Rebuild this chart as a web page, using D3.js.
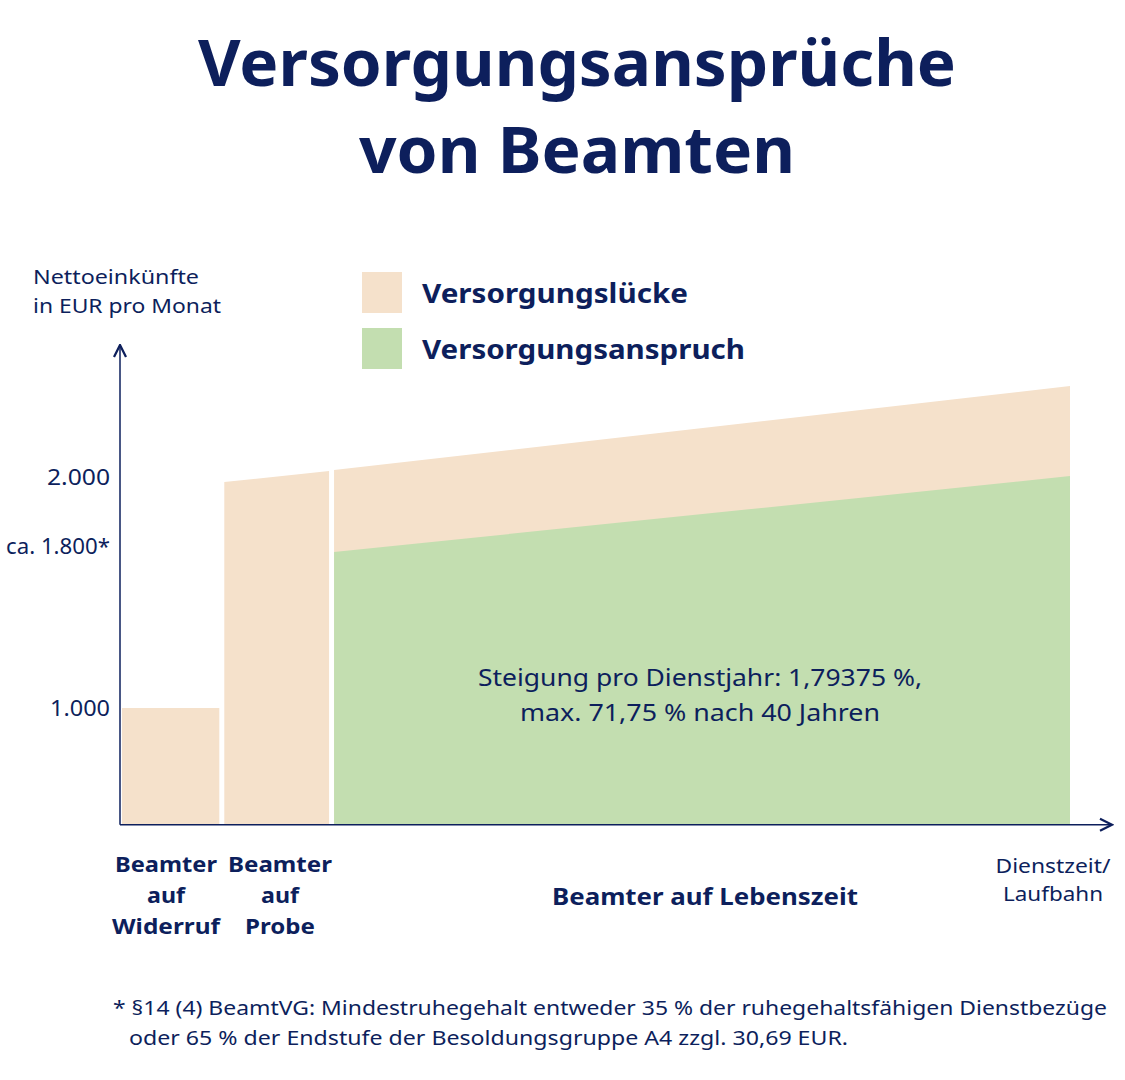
<!DOCTYPE html>
<html><head><meta charset="utf-8">
<script src="https://cdn.jsdelivr.net/npm/d3@7"></script>
<style>body{margin:0;background:#fff}text{font-family:"Noto Sans",sans-serif;fill:#0d1f5c}</style>
</head><body><svg id="c" width="1125" height="1080"></svg>
<script>
// segments in service "years" (x) and income (EUR)
const segments = ["Widerruf", "Probe", "Lebenszeit"];
const segStart = [0, 2, 4.2];
const segEnd = [2, 4.2, 19];
const gapStart = [1000, 1978, 2030];   // beige top at left
const gapEnd = [1000, 2026, 2394];     // beige top at right
const claimStart = [null, null, 1675]; // green top at left
const claimEnd = [null, null, 2004];
const tickValues = [1000, 1700, 2000];
const tickLabels = ["1.000", "ca. 1.800*", "2.000"];
const baseValue = 495;

const navy = "#0d1f5c", beige = "#f5e1cb", green = "#c3deb0";
const svg = d3.select("#c");

const x = d3.scaleLinear().domain([0, 19]).range([122, 1070]);
const y = d3.scaleLinear().domain([1000, 2000]).range([708, 477]);

// text helper, stretched to the widths seen in the reference
function txt(t, xx, yy, size, opts = {}) {
  const el = svg.append("text").attr("x", xx).attr("y", yy).attr("font-size", size)
    .attr("text-anchor", opts.anchor || "start").attr("font-weight", opts.bold ? 700 : 400).text(t);
  if (opts.len) el.attr("textLength", opts.len).attr("lengthAdjust", "spacingAndGlyphs");
  return el;
}

// title
txt("Versorgungsansprüche", 577, 86, 64, {anchor: "middle", bold: true, len: 758});
txt("von Beamten", 577, 173, 64, {anchor: "middle", bold: true, len: 436});

// areas
segments.forEach((s, i) => {
  const pad = i === 0 ? 0 : 2.5, padR = i === segments.length - 1 ? 0 : 2.5;
  const x0 = x(segStart[i]) + pad, x1 = x(segEnd[i]) - padR;
  svg.append("path").attr("fill", beige)
    .attr("d", `M${x0},${y(baseValue)}L${x0},${y(gapStart[i])}L${x1},${y(gapEnd[i])}L${x1},${y(baseValue)}Z`);
  if (claimStart[i] != null) {
    svg.append("path").attr("fill", green)
      .attr("d", `M${x0},${y(baseValue)}L${x0},${y(claimStart[i])}L${x1},${y(claimEnd[i])}L${x1},${y(baseValue)}Z`);
  }
});

// axes
const defs = svg.append("defs");
defs.append("marker").attr("id", "ar").attr("viewBox", "0 0 10 10").attr("refX", 9).attr("refY", 5)
  .attr("markerWidth", 10).attr("markerHeight", 10).attr("orient", "auto")
  .append("path").attr("d", "M1,1L9,5L1,9").attr("fill", "none").attr("stroke", navy).attr("stroke-width", 1.5);
svg.append("line").attr("x1", 120).attr("y1", y(baseValue)).attr("x2", 120).attr("y2", 345)
  .attr("stroke", navy).attr("stroke-width", 1.5).attr("marker-end", "url(#ar)");
svg.append("line").attr("x1", 120).attr("y1", y(baseValue)).attr("x2", 1112).attr("y2", y(baseValue))
  .attr("stroke", navy).attr("stroke-width", 1.5).attr("marker-end", "url(#ar)");

const tickLens = [60, 104, 63];
tickValues.forEach((v, i) => txt(tickLabels[i], 110, y(v) + 8, 21, {anchor: "end", len: tickLens[i]}));

// y label
txt("Nettoeinkünfte", 33, 284, 20, {len: 166});
txt("in EUR pro Monat", 33, 313, 20, {len: 188});

// legend
[[beige, "Versorgungslücke", 272, 266], [green, "Versorgungsanspruch", 328, 323]].forEach(([c, t, yy, l]) => {
  svg.append("rect").attr("x", 362).attr("y", yy).attr("width", 40).attr("height", 41).attr("fill", c);
  txt(t, 422, yy + 31, 27, {bold: true, len: l});
});

// annotation
txt("Steigung pro Dienstjahr: 1,79375 %,", 700, 686, 24, {anchor: "middle", len: 444});
txt("max. 71,75 % nach 40 Jahren", 700, 721, 24, {anchor: "middle", len: 360});

// x labels
const cat = [["Beamter", "auf", "Widerruf"], ["Beamter", "auf", "Probe"]];
const catLens = [[102, 38, 108], [104, 38, 70]];
const catX = [166, 280];
cat.forEach((lines, i) => {
  lines.forEach((t, j) => txt(t, catX[i], 872 + j * 31, 22, {anchor: "middle", bold: true, len: catLens[i][j]}));
});
txt("Beamter auf Lebenszeit", 705, 905, 23, {anchor: "middle", bold: true, len: 306});
txt("Dienstzeit/", 1053, 873, 20, {anchor: "middle", len: 115});
txt("Laufbahn", 1053, 901, 20, {anchor: "middle", len: 100});

// footnote
txt("* §14 (4) BeamtVG: Mindestruhegehalt entweder 35 % der ruhegehaltsfähigen Dienstbezüge", 113, 1015, 20, {len: 994});
txt("oder 65 % der Endstufe der Besoldungsgruppe A4 zzgl. 30,69 EUR.", 129, 1045, 20, {len: 719});
</script></body></html>
